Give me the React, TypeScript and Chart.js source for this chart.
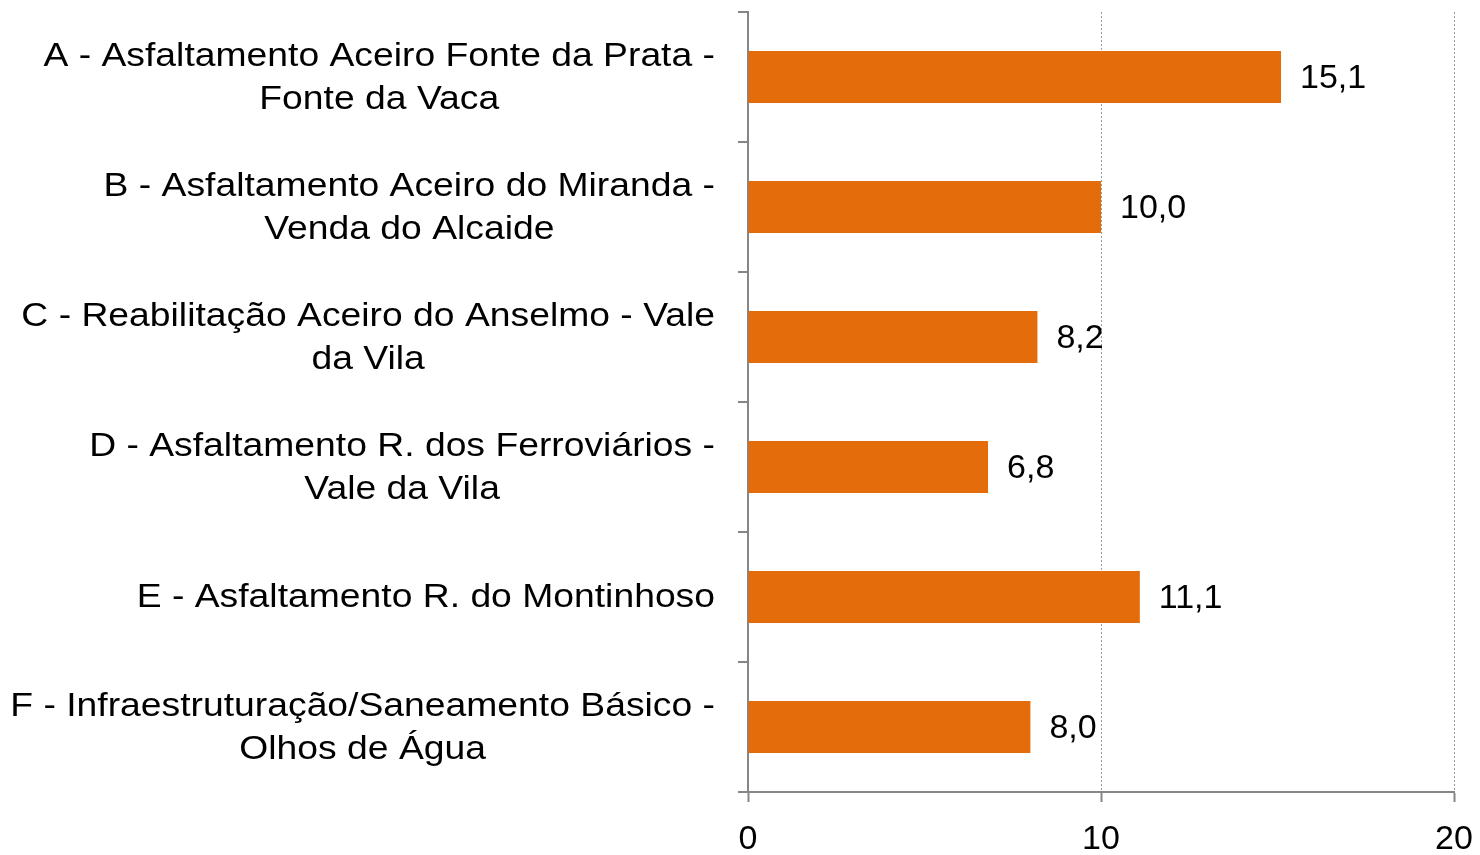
import React, { useEffect, useRef } from "react";
import { Chart, registerables } from "chart.js";

Chart.register(...registerables);

const categories: string[][] = [
  ["A - Asfaltamento Aceiro Fonte da Prata -", "Fonte da Vaca"],
  ["B - Asfaltamento Aceiro do Miranda -", "Venda do Alcaide"],
  ["C - Reabilitação Aceiro do Anselmo - Vale", "da Vila"],
  ["D - Asfaltamento R. dos Ferroviários -", "Vale da Vila"],
  ["E - Asfaltamento R. do Montinhoso"],
  ["F - Infraestruturação/Saneamento Básico -", "Olhos de Água"],
];
const values: number[] = [15.1, 10.0, 8.2, 6.8, 11.1, 8.0];
const xTicks: number[] = [0, 10, 20];

const FONT = '"Liberation Sans", Arial, sans-serif';
const FONT_SIZE = 33;
const SCALE_X = 1.13;
const BAR_COLOR = "#E46C0A";
const AXIS_COLOR = "#868686";

const labelPlugin = {
  id: "customLabels",
  afterDraw(chart: any) {
    const ctx = chart.ctx;
    const yScale = chart.scales.y;
    const meta = chart.getDatasetMeta(0);
    ctx.save();
    ctx.fillStyle = "#000";
    ctx.font = `${FONT_SIZE}px ${FONT}`;
    ctx.textBaseline = "middle";
    // category labels
    const rightEdge = chart.chartArea.left - 33;
    const lineH = 43;
    categories.forEach((lines, i) => {
      const yc = yScale.getPixelForValue(i);
      const widths = lines.map((l) => ctx.measureText(l).width * SCALE_X);
      const widest = Math.max(...widths);
      const cx = rightEdge - widest / 2;
      const y0 = yc - ((lines.length - 1) * lineH) / 2 + 1;
      lines.forEach((l, j) => {
        ctx.save();
        ctx.translate(cx, y0 + j * lineH);
        ctx.scale(SCALE_X, 1);
        ctx.textAlign = "center";
        ctx.fillText(l, 0, 0);
        ctx.restore();
      });
    });
    // value labels
    ctx.font = `34px ${FONT}`;
    meta.data.forEach((bar: any, i: number) => {
      const txt = values[i].toFixed(1).replace(".", ",");
      ctx.textAlign = "left";
      ctx.fillText(txt, bar.x + 19, bar.y + 2);
    });
    ctx.restore();
  },
};

export default function App() {
  const ref = useRef<HTMLCanvasElement | null>(null);
  useEffect(() => {
    if (!ref.current) return;
    const chart = new Chart(ref.current, {
      type: "bar",
      data: {
        labels: categories.map((c) => c.join(" ")),
        datasets: [
          {
            data: values,
            backgroundColor: BAR_COLOR,
            borderWidth: 0,
            barPercentage: 0.4,
            categoryPercentage: 1,
          },
        ],
      },
      options: {
        indexAxis: "y",
        animation: false,
        responsive: false,
        maintainAspectRatio: false,
        layout: { autoPadding: false, padding: { top: 12, right: 26, left: 0, bottom: 0 } },
        plugins: {
          legend: { display: false },
          tooltip: { enabled: false },
        },
        scales: {
          x: {
            type: "linear",
            min: 0,
            max: 20,
            afterBuildTicks: (scale: any) => {
              scale.ticks = xTicks.map((v) => ({ value: v }));
            },
            afterFit: (scale: any) => {
              scale.height = 63;
              scale.paddingLeft = 0;
              scale.paddingRight = 0;
            },
            ticks: {
              color: "#000",
              font: { family: FONT, size: 34 },
              padding: 17,
              maxRotation: 0,
              autoSkip: false,
            },
            grid: {
              color: (ctx: any) => (ctx.index === 0 ? "rgba(0,0,0,0)" : "#9a9a9a"),
              lineWidth: 1,
              drawTicks: true,
              tickLength: 10,
              tickColor: AXIS_COLOR,
              tickWidth: 2,
            },
            border: { display: true, color: AXIS_COLOR, width: 2, dash: [2, 2] },
          },
          y: {
            type: "category",
            offset: true,
            afterFit: (scale: any) => {
              scale.width = 748;
              scale.paddingTop = 0;
              scale.paddingBottom = 0;
            },
            ticks: { display: false },
            grid: {
              offset: true,
              drawOnChartArea: false,
              drawTicks: true,
              tickLength: 10,
              color: AXIS_COLOR,
              lineWidth: 2,
            },
            border: { display: true, color: AXIS_COLOR, width: 2 },
          },
        },
      },
      plugins: [labelPlugin],
    } as any);
    return () => chart.destroy();
  }, []);
  return (
    <div style={{ position: "absolute", left: 0, top: 0, width: 1480, height: 855, background: "#fff" }}>
      <canvas ref={ref} width={1480} height={855} style={{ width: 1480, height: 855 }} />
    </div>
  );
}
